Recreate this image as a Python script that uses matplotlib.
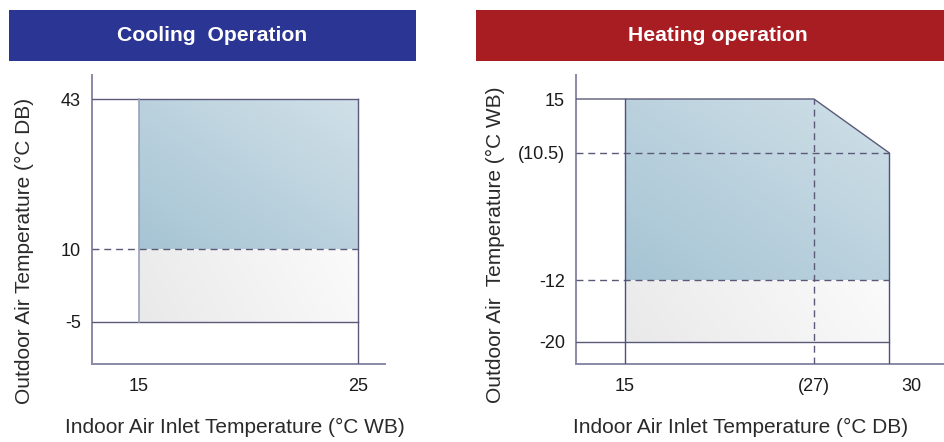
import numpy as np
import matplotlib
matplotlib.use("Agg")
import matplotlib.pyplot as plt
import matplotlib.transforms as mtransforms
from matplotlib.patches import Polygon, Rectangle
from matplotlib.colors import to_rgb

plt.rcParams["font.family"] = ["Liberation Sans", "DejaVu Sans"]

# ---- operating ranges -------------------------------------------------
cool_indoor = [15, 25]            # indoor inlet (°C WB): min, max
cool_outdoor = [-5, 10, 43]       # outdoor (°C DB): min, limit, max
cool_xticklabels = ["15", "25"]
cool_yticklabels = ["-5", "10", "43"]

heat_indoor = [15, 27, 30]        # indoor inlet (°C DB): min, knee, max
heat_outdoor = [-20, -12, 10.5, 15]  # outdoor (°C WB)
heat_xticklabels = ["15", "(27)", "30"]
heat_yticklabels = ["-20", "-12", "(10.5)", "15"]

# ---- layout -------------------------------------------------------------
W, H = 944, 442
fig = plt.figure(figsize=(W / 100, H / 100), dpi=100)

LINE = "#5A5A78"
SPINE = "#8A8AA8"
DASH = (0, (5, 3.5))
BLUE0, BLUE1 = to_rgb("#A6C4D4"), to_rgb("#D0E0E8")
GREY0, GREY1 = to_rgb("#E9E9EA"), to_rgb("#FBFBFB")
LABEL_KW = dict(fontsize=15, color="#2a2a2a")


def px_axes(x0, y0, x1, y1):
    return fig.add_axes([x0 / W, 1 - y1 / H, (x1 - x0) / W, (y1 - y0) / H])


def schematic(values, offsets):
    """Piecewise-linear axis scale (schematic, not to scale)."""
    v = np.asarray(values, float)
    p = np.asarray(offsets, float)

    def _map(x, a, b):
        x = np.asarray(x, float)
        y = np.interp(x, a, b)
        if len(a) > 1:
            y = np.where(x < a[0], b[0] + (x - a[0]) * (b[1] - b[0]) / (a[1] - a[0]), y)
            y = np.where(x > a[-1], b[-1] + (x - a[-1]) * (b[-1] - b[-2]) / (a[-1] - a[-2]), y)
        return y

    return (lambda x: _map(x, v, p)), (lambda y: _map(y, p, v))


def setup_axes(ax, xs, ys, width, height):
    fx, ix = xs
    fy, iy = ys
    ax.set_xscale("function", functions=(fx, ix))
    ax.set_yscale("function", functions=(fy, iy))
    ax.set_xlim(float(ix(0)), float(ix(width)))
    ax.set_ylim(float(iy(0)), float(iy(height)))
    for s in ("top", "right"):
        ax.spines[s].set_visible(False)
    for s in ("left", "bottom"):
        ax.spines[s].set_color(SPINE)
        ax.spines[s].set_linewidth(1.4)
    ax.tick_params(length=0, labelsize=13, colors="#1a1a1a")
    ax.tick_params(axis="x", pad=10)
    ax.tick_params(axis="y", pad=8)
    ax.minorticks_off()


def gradient_fill(ax, verts, c0, c1, mode):
    poly = Polygon(verts, closed=True, transform=ax.transData,
                   facecolor="none", edgecolor="none")
    ax.add_patch(poly)
    pts = ax.transAxes.inverted().transform(ax.transData.transform(verts))
    (x0, y0), (x1, y1) = pts.min(0), pts.max(0)
    u = np.linspace(0, 1, 200)
    X, Y = np.meshgrid(u, u)
    t = (X + Y) / 2 if mode == "diag" else 0.85 * X + 0.15 * Y
    img = np.asarray(c0) + (np.asarray(c1) - np.asarray(c0)) * t[..., None]
    im = ax.imshow(img, extent=(x0, x1, y0, y1), origin="lower",
                   transform=ax.transAxes, aspect="auto",
                   interpolation="bilinear", zorder=1)
    im.set_clip_path(poly)


def header(x0, x1, text, color, tx):
    fig.add_artist(Rectangle((x0 / W, 1 - 60.5 / H), (x1 - x0) / W, 50.5 / H,
                             transform=fig.transFigure, facecolor=color,
                             edgecolor="none"))
    fig.text(tx / W, 1 - 35.5 / H, text, color="white", fontsize=15.2,
             fontweight="bold", ha="center", va="center")


header(9, 416, "Cooling  Operation", "#2B3594", 212)
header(476, 944, "Heating operation", "#A81D22", 718)

# ---- cooling --------------------------------------------------------------
ax1 = px_axes(92, 75, 385, 364)
setup_axes(ax1, schematic(cool_indoor, [47, 266]),
           schematic(cool_outdoor, [42, 115, 265]), 293, 289)
xl = ax1.get_xlim()[0]
yb = ax1.get_ylim()[0]
cx0, cx1 = cool_indoor
cy0, cy1, cy2 = cool_outdoor
gradient_fill(ax1, [(cx0, cy1), (cx1, cy1), (cx1, cy2), (cx0, cy2)], BLUE0, BLUE1, "diag")
gradient_fill(ax1, [(cx0, cy0), (cx1, cy0), (cx1, cy1), (cx0, cy1)], GREY0, GREY1, "horiz")
ax1.plot([xl, cx1], [cy2, cy2], color=LINE, lw=1.0, zorder=3)
ax1.plot([xl, cx1], [cy0, cy0], color=LINE, lw=1.0, zorder=3)
ax1.plot([xl, cx1], [cy1, cy1], color=LINE, lw=1.0, ls=DASH, zorder=3)
ax1.plot([cx0, cx0], [cy0, cy2], color="#98A0BC", lw=1.2, zorder=3)
ax1.plot([cx1, cx1], [yb, cy2], color=LINE, lw=1.0, zorder=3)
ax1.set_xticks(cool_indoor, cool_xticklabels)
ax1.set_yticks(cool_outdoor, cool_yticklabels)
ax1.set_xlim(xl, ax1.get_xlim()[1])
ax1.set_ylim(yb, ax1.get_ylim()[1])
ax1.set_xlabel("Indoor Air Inlet Temperature (°C WB)", **LABEL_KW)
ax1.set_ylabel("Outdoor Air Temperature (°C DB)", **LABEL_KW)
ax1.xaxis.set_label_coords(0.488, -0.218)
ax1.xaxis.label.set_va("center")
ax1.yaxis.set_label_coords(-0.229, 0.39)
ax1.yaxis.label.set_va("center")

# ---- heating --------------------------------------------------------------
ax2 = px_axes(576, 75, 944, 364)
setup_axes(ax2, schematic(heat_indoor, [49, 238, 313]),
           schematic(heat_outdoor, [22.4, 83.7, 211.3, 265]), 368, 289)
xl2 = ax2.get_xlim()[0]
yb2 = ax2.get_ylim()[0]
hx0, hx1, hx2 = heat_indoor
hy0, hy1, hy2, hy3 = heat_outdoor
gradient_fill(ax2, [(hx0, hy1), (hx2, hy1), (hx2, hy2), (hx1, hy3), (hx0, hy3)],
              BLUE0, BLUE1, "diag")
gradient_fill(ax2, [(hx0, hy0), (hx2, hy0), (hx2, hy1), (hx0, hy1)], GREY0, GREY1, "horiz")
ax2.plot([xl2, hx1, hx2], [hy3, hy3, hy2], color=LINE, lw=1.0, zorder=3)
ax2.plot([xl2, hx2], [hy2, hy2], color=LINE, lw=1.0, ls=DASH, zorder=3)
ax2.plot([xl2, hx2], [hy1, hy1], color=LINE, lw=1.0, ls=DASH, zorder=3)
ax2.plot([xl2, hx2], [hy0, hy0], color=LINE, lw=1.0, zorder=3)
ax2.plot([hx0, hx0], [yb2, hy3], color="#4A5082", lw=1.0, zorder=3)
ax2.plot([hx1, hx1], [yb2, hy3], color=LINE, lw=1.0, ls=DASH, zorder=3)
ax2.plot([hx2, hx2], [yb2, hy2], color="#4A5082", lw=1.0, zorder=3)
ax2.set_xticks(heat_indoor, heat_xticklabels)
ax2.set_yticks(heat_outdoor, heat_yticklabels)
ax2.set_xlim(xl2, ax2.get_xlim()[1])
ax2.set_ylim(yb2, ax2.get_ylim()[1])
last = ax2.xaxis.get_major_ticks()[-1].label1
last.set_transform(last.get_transform() +
                   mtransforms.ScaledTranslation(0.22, 0, fig.dpi_scale_trans))
ax2.set_xlabel("Indoor Air Inlet Temperature (°C DB)", **LABEL_KW)
ax2.set_ylabel("Outdoor Air  Temperature (°C WB)", **LABEL_KW)
ax2.xaxis.set_label_coords(0.448, -0.218)
ax2.xaxis.label.set_va("center")
ax2.yaxis.set_label_coords(-0.22, 0.412)
ax2.yaxis.label.set_va("center")

fig.savefig("out.png", dpi=100, facecolor="white")
